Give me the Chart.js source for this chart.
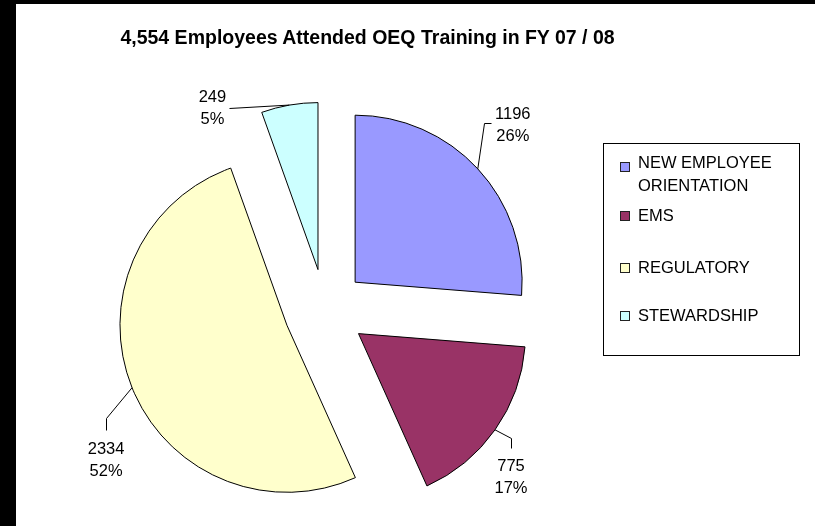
<!DOCTYPE html>
<html><head><meta charset="utf-8">
<script src="https://cdn.jsdelivr.net/npm/chart.js@4.4.0/dist/chart.umd.min.js"></script>
<style>
html,body{margin:0;padding:0;background:#fff;width:815px;height:526px;overflow:hidden;font-family:"Liberation Sans",Arial,sans-serif;color:#000;}
#wrap{position:relative;width:815px;height:526px;}
#c{position:absolute;left:0;top:0;}
.bar{position:absolute;background:#000;}
#title{position:absolute;left:0;top:25px;width:735px;text-align:center;font-weight:bold;font-size:19.5px;line-height:24px;white-space:nowrap;}
#legend{position:absolute;left:603px;top:143px;width:197px;height:213px;border:1px solid #000;box-sizing:border-box;}
.li-box{position:absolute;width:10px;height:10px;border:1px solid #222;box-sizing:border-box;}
.li-text{position:absolute;font-size:16.5px;line-height:22.5px;white-space:nowrap;}
</style></head>
<body><div id="wrap">
<canvas id="c" width="815" height="526"></canvas>
<div class="bar" style="left:0;top:0;width:16px;height:526px"></div>
<div class="bar" style="left:0;top:0;width:815px;height:4px"></div>
<div id="title">4,554 Employees Attended OEQ Training in FY 07 / 08</div>
<div id="legend"></div>
</div>
<script>
// ---- data ----
const categories = ['NEW EMPLOYEE ORIENTATION', 'EMS', 'REGULATORY', 'STEWARDSHIP'];
const legendLines = [['NEW EMPLOYEE', 'ORIENTATION'], ['EMS'], ['REGULATORY'], ['STEWARDSHIP']];
const attendees = [1196, 775, 2334, 249];
const percentLabels = ['26%', '17%', '52%', '5%'];

// ---- styling / layout ----
const sliceColors = ['#9999FF', '#993366', '#FFFFCC', '#CCFFFF'];
const explodeDistance = 41;
const labelNudge = [[35, -45], [16, 46], [-26, 71], [-77, 2]];
const leaderPts = [[[-29, -1], [-22, -1]], [[0, -38], [0, -28]], [[0, -41], [0, -29]], [[17, 1]]];
const legendRowY = [161.5, 214, 266, 314];

// legend (HTML)
const lg = document.getElementById('legend');
categories.forEach((cat, i) => {
  const y = legendRowY[i] - 143;
  const b = document.createElement('div');
  b.className = 'li-box';
  b.style.left = (619 - 603) + 'px';
  b.style.top = (y - 5 + (i === 0 ? 4 : 1)) + 'px';
  b.style.background = sliceColors[i];
  lg.appendChild(b);
  const t = document.createElement('div');
  t.className = 'li-text';
  t.style.left = (637 - 603) + 'px';
  t.style.top = (y - 11.1) + 'px';
  t.innerHTML = legendLines[i].join('<br>');
  lg.appendChild(t);
});

const explodePlugin = {
  id: 'explode',
  beforeDatasetDraw(chart, args) {
    const ctx = chart.ctx;
    args.meta.data.forEach(arc => {
      const mid = (arc.startAngle + arc.endAngle) / 2;
      ctx.save();
      ctx.translate(Math.cos(mid) * explodeDistance, Math.sin(mid) * explodeDistance);
      arc.draw(ctx, chart.chartArea);
      ctx.restore();
    });
    return false;
  },
  afterDatasetsDraw(chart) {
    const ctx = chart.ctx;
    const meta = chart.getDatasetMeta(0);
    ctx.save();
    meta.data.forEach((arc, i) => {
      const mid = (arc.startAngle + arc.endAngle) / 2;
      const r = arc.outerRadius + explodeDistance;
      const px = arc.x + Math.cos(mid) * r;
      const py = arc.y + Math.sin(mid) * r;
      const lx = px + labelNudge[i][0];
      const ly = py + labelNudge[i][1];
      ctx.strokeStyle = '#000';
      ctx.lineWidth = 1;
      ctx.beginPath();
      ctx.moveTo(px, py);
      leaderPts[i].forEach(p => ctx.lineTo(Math.round(lx + p[0]) + 0.5, Math.round(ly + p[1]) + 0.5));
      ctx.stroke();
      ctx.fillStyle = '#000';
      ctx.font = '16.5px "Liberation Sans", Arial, sans-serif';
      ctx.textAlign = 'center';
      ctx.textBaseline = 'alphabetic';
      ctx.fillText(String(attendees[i]), lx, ly - 11 + 5.9);
      ctx.fillText(percentLabels[i], lx, ly + 11 + 5.9);
    });
    ctx.restore();
  }
};

new Chart(document.getElementById('c'), {
  type: 'pie',
  data: {
    labels: categories,
    datasets: [{
      data: attendees,
      backgroundColor: sliceColors,
      borderColor: '#000',
      borderWidth: 1,
      borderJoinStyle: 'miter',
      radius: 167,
      clip: false
    }]
  },
  options: {
    responsive: false,
    animation: false,
    events: [],
    layout: { padding: { left: 16, right: 181, top: 94, bottom: 0 } },
    plugins: { legend: { display: false }, tooltip: { enabled: false }, title: { display: false } }
  },
  plugins: [explodePlugin]
});
</script>
</body></html>
